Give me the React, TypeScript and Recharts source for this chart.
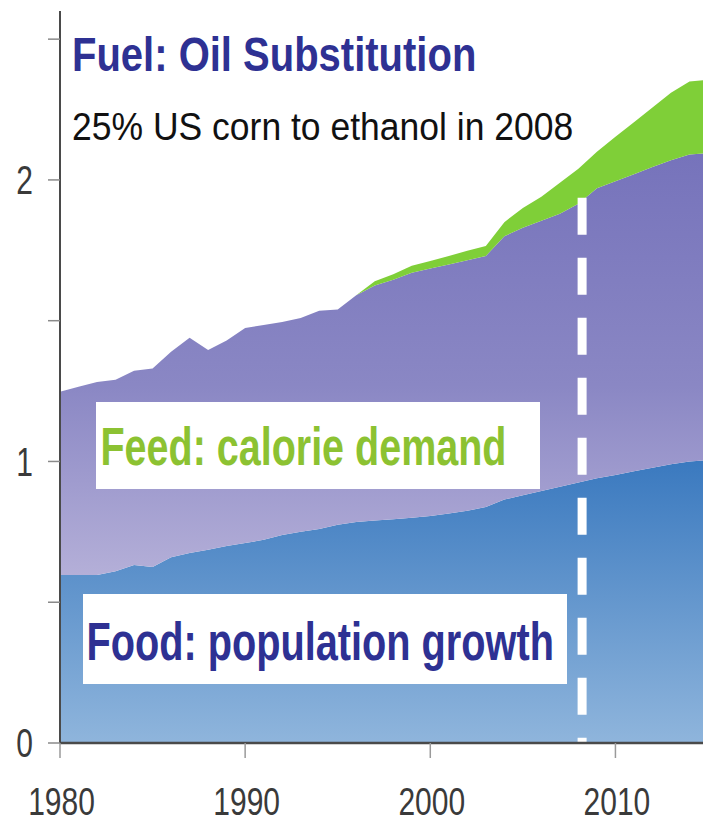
import React from 'react';
import { AreaChart, Area, XAxis, YAxis, ReferenceLine } from 'recharts';

const years = [
  1980, 1981, 1982, 1983, 1984, 1985, 1986, 1987, 1988, 1989,
  1990, 1991, 1992, 1993, 1994, 1995, 1996, 1997, 1998, 1999,
  2000, 2001, 2002, 2003, 2004, 2005, 2006, 2007, 2008, 2009,
  2010, 2011, 2012, 2013, 2014, 2015,
];
const foodDemand = [
  0.597, 0.597, 0.597, 0.61, 0.632, 0.625, 0.66, 0.675, 0.686, 0.7,
  0.71, 0.722, 0.739, 0.75, 0.76, 0.775, 0.785, 0.79, 0.795, 0.8,
  0.806, 0.815, 0.825, 0.838, 0.865, 0.88, 0.895, 0.91, 0.925, 0.94,
  0.952, 0.965, 0.978, 0.99, 1.0, 1.005,
];
const feedDemand = [
  0.651, 0.668, 0.685, 0.68, 0.69, 0.705, 0.73, 0.764, 0.71, 0.73,
  0.764, 0.763, 0.756, 0.76, 0.775, 0.765, 0.805, 0.835, 0.85, 0.87,
  0.879, 0.885, 0.89, 0.892, 0.935, 0.95, 0.96, 0.97, 0.99, 1.03,
  1.043, 1.055, 1.068, 1.08, 1.09, 1.09,
];
const fuelDemand = [
  0, 0, 0, 0, 0, 0, 0, 0, 0, 0,
  0, 0, 0, 0, 0, 0, 0, 0.015, 0.02, 0.025,
  0.027, 0.03, 0.033, 0.035, 0.05, 0.07, 0.085, 0.11, 0.125, 0.13,
  0.158, 0.185, 0.211, 0.24, 0.26, 0.26,
];
const xTicks = [1980, 1990, 2000, 2010];
const yTicks = [0, 0.5, 1, 1.5, 2, 2.5];
const labeledYTicks = [0, 1, 2];
const ethanolYear = 2008.2;
const dashTopValue = 1.937;

const titleText = 'Fuel: Oil Substitution';
const subtitleText = '25% US corn to ethanol in 2008';
const feedText = 'Feed: calorie demand';
const foodText = 'Food: population growth';

const data = years.map((year, i) => ({
  year,
  food: foodDemand[i],
  feed: feedDemand[i],
  fuel: fuelDemand[i],
}));

const FONT = '"Liberation Sans", Arial, Helvetica, sans-serif';
const X_STRETCH = 1.3;
const Y_STRETCH = 1.35;

const XTick = (props: any) => {
  const { x, y, payload } = props;
  return (
    <g transform={`translate(${x},${y}) scale(1,${X_STRETCH})`}>
      <text x={1.5} y={44.2} textAnchor="middle" fontSize={30} fill="#3a3a3a" fontFamily={FONT}>
        {payload.value}
      </text>
    </g>
  );
};

const YTick = (props: any) => {
  const { x, y, payload } = props;
  if (!labeledYTicks.includes(payload.value)) return <g />;
  return (
    <g transform={`translate(${x},${y}) scale(1,${Y_STRETCH})`}>
      <text x={0} y={10.4} textAnchor="end" fontSize={30} fill="#3a3a3a" fontFamily={FONT}>
        {payload.value}
      </text>
    </g>
  );
};

export default function App() {
  return (
    <div
      style={{
        position: 'fixed',
        left: 0,
        top: 0,
        width: 703,
        height: 825,
        overflow: 'hidden',
        background: '#ffffff',
      }}
    >
      <AreaChart
        width={708}
        height={825}
        data={data}
        margin={{ top: 11, right: 0, bottom: 0, left: 0 }}
      >
        <defs>
          <linearGradient id="foodGrad" x1="0" y1="0" x2="0" y2="1">
            <stop offset="0%" stopColor="#3a79bf" />
            <stop offset="100%" stopColor="#8fb5dc" />
          </linearGradient>
          <linearGradient id="feedGrad" x1="0" y1="0" x2="0" y2="1">
            <stop offset="0%" stopColor="#7673bb" />
            <stop offset="55%" stopColor="#8a87c4" />
            <stop offset="100%" stopColor="#b4afd8" />
          </linearGradient>
        </defs>
        <XAxis
          dataKey="year"
          type="number"
          domain={[1980, 2015]}
          ticks={xTicks}
          allowDataOverflow
          height={82}
          tickSize={15}
          tickMargin={0}
          tick={<XTick />}
          axisLine={{ stroke: '#4a4a4a', strokeWidth: 2.5 }}
          tickLine={{ stroke: '#9a9a9a', strokeWidth: 1.5 }}
        />
        <YAxis
          type="number"
          domain={[0, 2.6]}
          ticks={yTicks}
          allowDataOverflow
          width={60}
          tickSize={12}
          tickMargin={15}
          tick={<YTick />}
          axisLine={{ stroke: '#4a4a4a', strokeWidth: 2 }}
          tickLine={{ stroke: '#8a8a8a', strokeWidth: 1.5 }}
        />
        <Area
          type="linear"
          dataKey="food"
          stackId="demand"
          stroke="none"
          fill="url(#foodGrad)"
          fillOpacity={1}
          isAnimationActive={false}
        />
        <Area
          type="linear"
          dataKey="feed"
          stackId="demand"
          stroke="none"
          fill="url(#feedGrad)"
          fillOpacity={1}
          isAnimationActive={false}
        />
        <Area
          type="linear"
          dataKey="fuel"
          stackId="demand"
          stroke="none"
          fill="#7fcf38"
          fillOpacity={1}
          isAnimationActive={false}
        />
        <ReferenceLine
          segment={[
            { x: ethanolYear, y: dashTopValue },
            { x: ethanolYear, y: 0 },
          ]}
          stroke="#ffffff"
          strokeWidth={9}
          strokeDasharray="37 23"
          ifOverflow="visible"
        />
      </AreaChart>
      <svg
        width={703}
        height={825}
        style={{ position: 'absolute', left: 0, top: 0, pointerEvents: 'none' }}
      >
        <text
          transform="translate(72,71) scale(1,1.22)"
          fontSize={40}
          fontWeight="bold"
          fill="#2e3193"
          fontFamily={FONT}
        >
          {titleText}
        </text>
        <text
          transform="translate(72,140) scale(1,1.11)"
          fontSize={35.5}
          fill="#111111"
          fontFamily={FONT}
        >
          {subtitleText}
        </text>
        <rect x={96} y={402} width={444} height={87} fill="#ffffff" />
        <text
          transform="translate(100.5,465) scale(1,1.35)"
          fontSize={39.5}
          fontWeight="bold"
          fill="#8cc232"
          fontFamily={FONT}
        >
          {feedText}
        </text>
        <rect x={83} y={594} width={484} height={90} fill="#ffffff" />
        <text
          transform="translate(86.5,660) scale(1,1.35)"
          fontSize={39.7}
          fontWeight="bold"
          fill="#2e3193"
          fontFamily={FONT}
        >
          {foodText}
        </text>
      </svg>
    </div>
  );
}
